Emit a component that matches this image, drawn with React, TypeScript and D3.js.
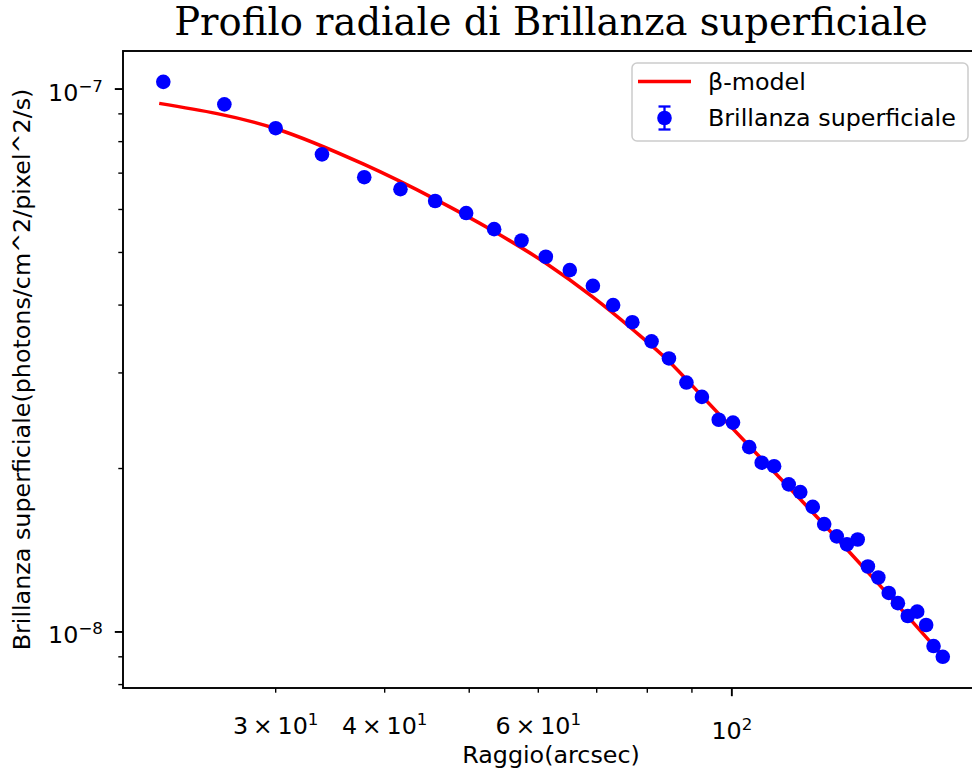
import React from 'react';
import * as d3 from 'd3';

// Radial surface-brightness profile: annulus radius (arcsec) and measured brightness
const radius = [
  22.3, 26.2, 30.0, 33.9, 37.9, 41.7, 45.7, 49.6, 53.4, 57.4,
  61.2, 65.2, 69.3, 73.1, 76.9, 80.9, 84.7, 88.7, 92.4, 96.6,
  100.3, 104.7, 108.2, 111.8, 116.2, 119.8, 123.8, 127.6, 131.9, 135.5,
  139.4, 143.2, 147.2, 151.3, 155.0, 159.1, 163.1, 167.0, 170.3, 174.5,
];
const brightness = [
  1.031e-7, 9.37e-8, 8.47e-8, 7.58e-8, 6.88e-8, 6.54e-8, 6.22e-8, 5.91e-8, 5.52e-8, 5.26e-8,
  4.91e-8, 4.64e-8, 4.34e-8, 4.0e-8, 3.72e-8, 3.43e-8, 3.19e-8, 2.88e-8, 2.71e-8, 2.46e-8,
  2.43e-8, 2.19e-8, 2.05e-8, 2.02e-8, 1.87e-8, 1.81e-8, 1.7e-8, 1.58e-8, 1.5e-8, 1.45e-8,
  1.48e-8, 1.32e-8, 1.26e-8, 1.18e-8, 1.13e-8, 1.07e-8, 1.09e-8, 1.03e-8, 9.42e-9, 9.0e-9,
];

// Fitted beta-model curve
const modelRadius = [22.06, 29.96, 37.84, 45.68, 53.35, 61.16, 69.25, 76.91, 84.73, 92.4, 104.7, 123.8, 147.0, 174.5];
const modelBrightness = [9.41e-8, 8.46e-8, 7.27e-8, 6.27e-8, 5.47e-8, 4.78e-8, 4.14e-8, 3.61e-8, 3.15e-8, 2.72e-8, 2.2e-8, 1.66e-8, 1.23e-8, 9.03e-9];

// Tick values that carry a label
const xLabelledTicks = [30, 40, 60, 100];
const yLabelledTicks = [1e-8, 1e-7];

const W = 972;
const H = 775;
const L = 123;
const R = 979;
const T = 51;
const B = 688;

const FONT = 'DejaVu Sans, Liberation Sans, sans-serif';
const FS = 23.8;
const SUP = 16.7;

const isPow10 = (v: number) => Math.abs(Math.log10(v) - Math.round(Math.log10(v))) < 1e-6;
const near = (a: number, b: number) => Math.abs(a - b) / b < 1e-6;

export default function App() {
  const x = d3.scaleLog().domain([20.05, 192]).range([L, R]);
  const y = d3.scaleLog().domain([7.885e-9, 1.175e-7]).range([B, T]);

  const xTicks = x.ticks().filter((v) => v >= 20.05 && v <= 192);
  const yTicks = y.ticks().filter((v) => v >= 7.885e-9 && v <= 1.175e-7);

  const line = d3
    .line<number>()
    .x((_, i) => x(modelRadius[i]))
    .y((_, i) => y(modelBrightness[i]))
    .curve(d3.curveMonotoneX);

  const xLabel = (v: number) => {
    const e = Math.floor(Math.log10(v) + 1e-9);
    const m = Math.round(v / Math.pow(10, e));
    if (isPow10(v)) {
      return (
        <>
          <tspan>10</tspan>
          <tspan dy={-8.8} fontSize={SUP}>{e}</tspan>
        </>
      );
    }
    return (
      <>
        <tspan>{`${m}\u2009×\u200910`}</tspan>
        <tspan dy={-8.8} fontSize={SUP}>{e}</tspan>
      </>
    );
  };

  return (
    <svg
      width={W}
      height={H}
      viewBox={`0 0 ${W} ${H}`}
      style={{ position: 'absolute', left: 0, top: 0, background: '#fff' }}
      fontFamily={FONT}
    >
      <rect x={0} y={0} width={W} height={H} fill="#fff" />

      {/* title */}
      <text
        x={(L + R) / 2}
        y={35}
        textAnchor="middle"
        fontFamily="DejaVu Serif, Liberation Serif, serif"
        fontSize={38.5}
        fill="#000"
      >
        Profilo radiale di Brillanza superficiale
      </text>

      {/* model curve */}
      <path d={line(modelRadius) || ''} fill="none" stroke="#ff0000" strokeWidth={3.5} strokeLinejoin="round" />

      {/* measured points */}
      {radius.map((r, i) => (
        <circle key={i} cx={x(r)} cy={y(brightness[i])} r={7.3} fill="#0000ff" />
      ))}

      {/* frame */}
      <rect x={L} y={T} width={R - L} height={B - T} fill="none" stroke="#000" strokeWidth={1.9} />

      {/* x ticks */}
      {xTicks.map((v, i) => {
        const major = isPow10(v);
        const px = x(v);
        const labelled = xLabelledTicks.some((t) => near(v, t));
        return (
          <g key={`xt${i}`}>
            <line x1={px} x2={px} y1={B} y2={B + (major ? 8.2 : 4.7)} stroke="#000" strokeWidth={major ? 1.9 : 1.4} />
            {labelled && (
              <text x={px} y={major ? 739 : 734} textAnchor="middle" fontSize={FS} fill="#000">
                {xLabel(v)}
              </text>
            )}
          </g>
        );
      })}

      {/* y ticks */}
      {yTicks.map((v, i) => {
        const major = isPow10(v);
        const py = y(v);
        const labelled = yLabelledTicks.some((t) => near(v, t));
        const e = Math.round(Math.log10(v));
        return (
          <g key={`yt${i}`}>
            <line x1={L} x2={L - (major ? 8.2 : 4.7)} y1={py} y2={py} stroke="#000" strokeWidth={major ? 1.9 : 1.4} />
            {labelled && (
              <text x={103} y={py + 11.5} textAnchor="end" fontSize={FS} fill="#000">
                <tspan>10</tspan>
                <tspan dy={-9} fontSize={SUP}>{`\u2212${Math.abs(e)}`}</tspan>
              </text>
            )}
          </g>
        );
      })}

      {/* axis labels */}
      <text x={(L + R) / 2} y={763} textAnchor="middle" fontSize={FS} fill="#000">
        Raggio(arcsec)
      </text>
      <text
        transform={`translate(30, ${(T + B) / 2}) rotate(-90)`}
        textAnchor="middle"
        fontSize={FS}
        fill="#000"
      >
        Brillanza superficiale(photons/cm^2/pixel^2/s)
      </text>

      {/* legend */}
      <g>
        <rect x={632} y={63} width={336} height={78} rx={5} fill="#fff" fillOpacity={0.8} stroke="#cccccc" strokeWidth={1.5} />
        <line x1={638} x2={691} y1={81.5} y2={81.5} stroke="#ff0000" strokeWidth={3.5} />
        <text x={708} y={90} fontSize={FS} fill="#000">β-model</text>
        <line x1={664.5} x2={664.5} y1={106.5} y2={129.5} stroke="#0000ff" strokeWidth={2.3} />
        <line x1={658.5} x2={670.5} y1={106.5} y2={106.5} stroke="#0000ff" strokeWidth={2.3} />
        <line x1={658.5} x2={670.5} y1={129.5} y2={129.5} stroke="#0000ff" strokeWidth={2.3} />
        <circle cx={664.5} cy={118} r={7.3} fill="#0000ff" />
        <text x={708} y={126} fontSize={FS} fill="#000">Brillanza superficiale</text>
      </g>
    </svg>
  );
}
